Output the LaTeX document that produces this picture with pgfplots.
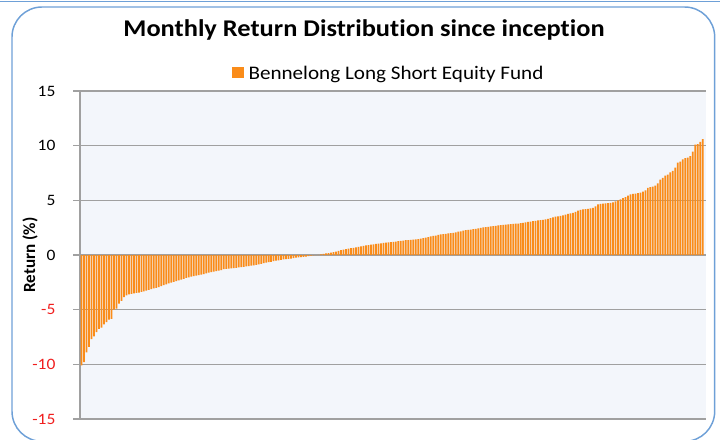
\documentclass[border=0pt]{standalone}
\usepackage{pgfplots}
\usepackage{pgfplotstable}
\pgfplotsset{compat=1.18}
\usepackage{fontspec}
\setmainfont{Carlito}[FakeStretch=1.1, Ligatures=NoCommon]
\newfontfamily\ylabfont{Carlito}[Ligatures=NoCommon]
\definecolor{barorange}{RGB}{250,140,25}
\definecolor{plotbg}{RGB}{243,246,251}
\definecolor{gridgray}{RGB}{160,160,160}
\definecolor{frameblue}{RGB}{110,160,215}
\definecolor{negred}{RGB}{240,30,30}

\pgfplotstableread[row sep=\\]{
ret\\
-10.1\\ -9.8\\ -8.9\\ -8.4\\ -7.7\\ -7.45\\ -7.05\\ -6.75\\ -6.65\\ -6.35\\
-6.15\\ -5.9\\ -5.85\\ -5.0\\ -4.9\\ -4.45\\ -4.2\\ -3.85\\ -3.7\\ -3.6\\
-3.55\\ -3.5\\ -3.47\\ -3.44\\ -3.38\\ -3.32\\ -3.25\\ -3.18\\ -3.12\\ -3.05\\
-3.0\\ -2.93\\ -2.85\\ -2.75\\ -2.68\\ -2.6\\ -2.52\\ -2.45\\ -2.38\\ -2.32\\
-2.25\\ -2.18\\ -2.1\\ -2.04\\ -1.98\\ -1.93\\ -1.88\\ -1.83\\ -1.79\\ -1.75\\
-1.68\\ -1.62\\ -1.57\\ -1.52\\ -1.47\\ -1.42\\ -1.38\\ -1.3\\ -1.27\\ -1.24\\
-1.22\\ -1.2\\ -1.17\\ -1.13\\ -1.1\\ -1.08\\ -1.05\\ -1.02\\ -0.98\\ -0.95\\
-0.9\\ -0.85\\ -0.8\\ -0.75\\ -0.7\\ -0.66\\ -0.62\\ -0.56\\ -0.52\\ -0.48\\
-0.44\\ -0.41\\ -0.38\\ -0.35\\ -0.32\\ -0.28\\ -0.25\\ -0.22\\ -0.2\\ -0.17\\
-0.14\\ -0.1\\ -0.06\\ -0.03\\ 0.0\\ 0.02\\ 0.05\\ 0.1\\ 0.14\\ 0.18\\
0.22\\ 0.27\\ 0.32\\ 0.38\\ 0.45\\ 0.5\\ 0.54\\ 0.58\\ 0.62\\ 0.66\\
0.7\\ 0.74\\ 0.78\\ 0.83\\ 0.87\\ 0.9\\ 0.94\\ 0.98\\ 1.01\\ 1.04\\
1.07\\ 1.1\\ 1.13\\ 1.15\\ 1.17\\ 1.19\\ 1.22\\ 1.26\\ 1.29\\ 1.32\\
1.35\\ 1.37\\ 1.39\\ 1.41\\ 1.43\\ 1.45\\ 1.5\\ 1.55\\ 1.6\\ 1.64\\
1.7\\ 1.74\\ 1.78\\ 1.83\\ 1.88\\ 1.91\\ 1.94\\ 1.98\\ 2.0\\ 2.03\\
2.08\\ 2.13\\ 2.17\\ 2.22\\ 2.27\\ 2.3\\ 2.33\\ 2.36\\ 2.4\\ 2.44\\
2.48\\ 2.52\\ 2.55\\ 2.58\\ 2.61\\ 2.64\\ 2.67\\ 2.7\\ 2.73\\ 2.76\\
2.78\\ 2.8\\ 2.82\\ 2.84\\ 2.86\\ 2.88\\ 2.91\\ 2.94\\ 2.98\\ 3.02\\
3.06\\ 3.1\\ 3.13\\ 3.16\\ 3.19\\ 3.22\\ 3.26\\ 3.3\\ 3.38\\ 3.45\\
3.5\\ 3.54\\ 3.58\\ 3.63\\ 3.7\\ 3.76\\ 3.8\\ 3.85\\ 3.95\\ 4.06\\
4.12\\ 4.17\\ 4.2\\ 4.23\\ 4.27\\ 4.32\\ 4.45\\ 4.62\\ 4.68\\ 4.7\\
4.72\\ 4.74\\ 4.77\\ 4.82\\ 4.9\\ 5.0\\ 5.08\\ 5.2\\ 5.3\\ 5.42\\
5.55\\ 5.6\\ 5.62\\ 5.65\\ 5.7\\ 5.8\\ 5.9\\ 6.15\\ 6.2\\ 6.25\\
6.35\\ 6.55\\ 6.9\\ 7.05\\ 7.25\\ 7.35\\ 7.55\\ 7.7\\ 8.0\\ 8.45\\
8.55\\ 8.75\\ 8.85\\ 8.9\\ 9.05\\ 9.45\\ 10.1\\ 10.15\\ 10.35\\ 10.6\\
}\returns

\begin{document}
\begin{tikzpicture}
\draw[frameblue, line width=1.1pt, rounded corners=22.5pt] (9pt,-5.25pt) rectangle (536pt,-331pt);
\draw[frameblue, line width=1.1pt] (0pt,-1pt) -- (540pt,-1pt);
\node[anchor=base, inner sep=0pt, font=\fontsize{18}{21}\selectfont\bfseries] at (273pt,-27.5pt) {Monthly Return Distribution since inception};
\begin{axis}[
  at={(60pt,-314.25pt)}, anchor=south west,
  scale only axis, width=469.5pt, height=246pt,
  axis background/.style={fill=plotbg},
  ybar, bar width=0.7,
  xmin=-0.6, xmax=250.3,
  ymin=-15, ymax=15,
  axis x line=none,
  axis y line*=left,
  axis line style={gridgray, line width=1.1pt},
  ytick={-15,-10,-5,0,5,10,15},
  yticklabels={\textcolor{negred}{-15},\textcolor{negred}{-10},\textcolor{negred}{-5},0,5,10,15},
  xtick=\empty,
  tick align=outside, major tick length=5.25pt,
  tick style={gridgray, line width=1.1pt},
  ymajorgrids, major grid style={gridgray, line width=1.1pt},
  yticklabel style={font=\fontsize{11.9}{14}\selectfont, anchor=east, inner sep=0pt, xshift=-13pt},
  ylabel={\ylabfont\bfseries Return (\%)},
  ylabel style={font=\fontsize{12.8}{14}\selectfont, at={(axis description cs:-0.0799,0.5)}, anchor=center},
  legend style={at={(axis description cs:0.2423,1.0534)}, anchor=west, draw=none, fill=none, inner sep=0pt,
    font=\fontsize{14.4}{17}\selectfont, nodes={inner sep=0pt}},
  legend image code/.code={\fill[barorange] (0pt,-3.5pt) rectangle (8.7pt,5.2pt); \path (12.45pt,0pt);},
]
\addplot[fill=barorange, draw=none] table[x expr=\coordindex, y=ret] {\returns};
\addlegendentry{Bennelong Long Short Equity Fund}
\end{axis}
\pgfresetboundingbox
\useasboundingbox (0pt,0pt) rectangle (540pt,-329.25pt);
\end{tikzpicture}
\end{document}
